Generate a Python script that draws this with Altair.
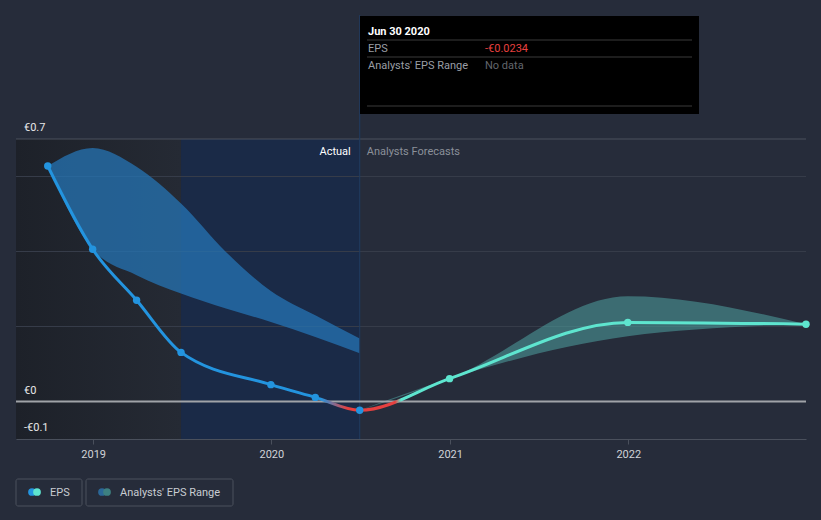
import altair as alt
import pandas as pd

# ---------------- data ----------------
eps_dates = ["2018-09-30", "2018-12-31", "2019-03-31", "2019-06-30", "2019-12-31",
             "2020-03-31", "2020-06-30", "2020-12-31", "2021-12-31", "2022-12-31"]
eps_values = [0.628, 0.406, 0.270, 0.131, 0.045, 0.011, -0.0234, 0.061, 0.211, 0.206]
eps_kind = ["actual"] * 7 + ["forecast"] * 3

past_dates = ["2018-09-30", "2018-12-31", "2019-03-31", "2019-06-30", "2019-09-30",
              "2019-12-31", "2020-03-31", "2020-06-30"]
past_low = [0.628, 0.406, 0.337, 0.288, 0.248, 0.212, 0.172, 0.129]
past_high = [0.628, 0.676, 0.626, 0.528, 0.399, 0.295, 0.230, 0.168]

fc_dates = ["2020-06-30", "2020-12-31", "2021-12-31", "2022-12-31"]
fc_low = [-0.0234, 0.061, 0.174, 0.206]
fc_high = [-0.0234, 0.061, 0.281, 0.206]

grid_values = [0.2, 0.4, 0.6]
ytick_values = [0.7, 0.0, -0.1]
ytick_labels = ["€0.7", "€0", "-€0.1"]
year_ticks = [2019, 2020, 2021, 2022]

BG = "#262c3a"
BLUE = "#2394df"
TEAL = "#5ee5cf"
RED = "#e6403f"
FONT = "Roboto"

eps_df = pd.DataFrame({"date": eps_dates, "eps": eps_values, "kind": eps_kind})
past_df = pd.DataFrame({"date": past_dates, "low": past_low, "high": past_high})
fc_df = pd.DataFrame({"date": fc_dates, "low": fc_low, "high": fc_high})
one = pd.DataFrame({"a": [0]})

def dt(y, m, d):
    return alt.DateTime(year=y, month=m, date=d, utc=True)

xscale = alt.Scale(type="utc", domain=[dt(2018, 7, 27), dt(2022, 12, 31)])
yscale = alt.Scale(domain=[-0.1, 0.7], nice=False, zero=False)

regions = pd.DataFrame({
    "start": ["2018-07-27", "2019-06-30"],
    "end": ["2019-06-30", "2020-06-30"],
    "name": ["dark", "navy"],
})

# background regions
dark_rect = alt.Chart(regions).transform_filter(alt.datum.name == "dark").mark_rect(
    fill=alt.Gradient(gradient="linear", x1=0, x2=1, y1=0, y2=0,
                      stops=[alt.GradientStop(color="#1d2129", offset=0),
                             alt.GradientStop(color="#252a34", offset=1)])
).encode(
    x=alt.X("start:T", scale=xscale,
            axis=alt.Axis(values=[dt(y, 1, 1) for y in year_ticks], format="%Y",
                          domainColor="#4a505c", tickColor="#4a505c", tickSize=5,
                          labelColor="#d0d3d8", labelFontSize=11, labelFont=FONT,
                          labelPadding=4, grid=False, title=None)),
    x2="end:T",
    y=alt.Y(datum=0.7, scale=yscale, axis=None),
    y2=alt.datum(-0.1),
)
navy_rect = alt.Chart(regions).transform_filter(alt.datum.name == "navy").mark_rect(
    fill="#1a2a47"
).encode(x="start:T", x2="end:T", y=alt.Y(datum=0.7), y2=alt.datum(-0.1))

grid_df = pd.DataFrame({"v": grid_values})
grid = alt.Chart(grid_df).mark_rule(color="#363c49", strokeWidth=1).encode(y="v:Q")
top_line = alt.Chart(one).mark_rule(color="#4b515d", strokeWidth=1).encode(y=alt.datum(0.7))
zero_line = alt.Chart(one).mark_rule(color="#a0a3a8", strokeWidth=2).encode(y=alt.datum(0))

past_band = alt.Chart(past_df).mark_area(interpolate="monotone", color="#2674b4", opacity=0.75).encode(
    x="date:T", y="low:Q", y2="high:Q")
fc_band = alt.Chart(fc_df).mark_area(interpolate="monotone", color="#4fa3a0", opacity=0.55).encode(
    x="date:T", y="low:Q", y2="high:Q")

vline = alt.Chart(one).mark_rule(color="#1f3c62", strokeWidth=1).encode(
    x=alt.datum(dt(2020, 6, 30)), y=alt.value(-124), y2=alt.value(300))

line = alt.Chart(eps_df).mark_line(
    interpolate="monotone", strokeWidth=3,
    stroke=alt.Gradient(gradient="linear", x1=0, x2=1, y1=0, y2=0, stops=[
        alt.GradientStop(color=BLUE, offset=0),
        alt.GradientStop(color=BLUE, offset=0.36),
        alt.GradientStop(color=RED, offset=0.395),
        alt.GradientStop(color=RED, offset=0.458),
        alt.GradientStop(color=TEAL, offset=0.466),
        alt.GradientStop(color=TEAL, offset=1),
    ])
).encode(x="date:T", y="eps:Q")

points = alt.Chart(eps_df).transform_filter(alt.datum.date != "2020-06-30").mark_circle(
    size=55, opacity=1).encode(
    x="date:T", y="eps:Q",
    color=alt.Color("kind:N", scale=alt.Scale(domain=["actual", "forecast"], range=[BLUE, TEAL]), legend=None))
hl_point = alt.Chart(eps_df).transform_filter(alt.datum.date == "2020-06-30").mark_point(
    size=70, filled=True, fill=BLUE, stroke="white", strokeWidth=1.3, opacity=1).encode(
    x="date:T", y="eps:Q")

ylab_df = pd.DataFrame({"v": ytick_values, "lab": ytick_labels})
ylabels = alt.Chart(ylab_df).mark_text(align="left", baseline="alphabetic", dy=-8,
                                       color="#e8e8e8", fontSize=11, font=FONT).encode(
    x=alt.value(8), y="v:Q", text="lab:N")

actual_txt = alt.Chart(one).mark_text(align="right", baseline="alphabetic", dx=-9, color="#ffffff",
                                      fontSize=11, font=FONT, text="Actual").encode(
    x=alt.datum(dt(2020, 6, 30)), y=alt.value(16))
fc_txt = alt.Chart(one).mark_text(align="left", baseline="alphabetic", dx=7, color="#8b9099",
                                  fontSize=11, font=FONT, text="Analysts Forecasts").encode(
    x=alt.datum(dt(2020, 6, 30)), y=alt.value(16))

# tooltip box
tip_box = alt.Chart(one).mark_rect(fill="#000000").encode(
    x=alt.value(344), x2=alt.value(683), y=alt.value(-123), y2=alt.value(-25))
tip_lines_df = pd.DataFrame({"yy": [-99, -82, -33]})
tip_lines = alt.Chart(tip_lines_df).mark_rule(color="#3a3a3a", strokeWidth=1).encode(
    x=alt.value(351), x2=alt.value(676), y=alt.Y("yy:Q", scale=None))

def txt(s, x, y, color, weight="normal", size=11, align="left"):
    return alt.Chart(one).mark_text(align=align, baseline="alphabetic", color=color, fontSize=size,
                                    font=FONT, fontWeight=weight, text=s).encode(
        x=alt.value(x), y=alt.value(y))

tip_texts = [
    txt("Jun 30 2020", 352, -104, "#ffffff", weight="bold"),
    txt("EPS", 352, -87, "#9a9ea5"),
    txt("-€0.0234", 469, -87, "#e8403f"),
    txt("Analysts' EPS Range", 352, -70, "#9a9ea5"),
    txt("No data", 469, -70, "#62666d"),
]

# legend
def box(x0, x1):
    return alt.Chart(one).mark_rect(fill=BG, stroke="#4a505c", strokeWidth=1, cornerRadius=2).encode(
        x=alt.value(x0), x2=alt.value(x1), y=alt.value(340), y2=alt.value(367))

def dot(x, color):
    return alt.Chart(one).mark_circle(size=60, color=color, opacity=1).encode(
        x=alt.value(x), y=alt.value(353))

legend = [
    box(0, 66), dot(16, BLUE), dot(21, TEAL), txt("EPS", 34, 357, "#c8ccd2"),
    box(70, 217), dot(86, "#2b6797"), dot(91, "#3d8080"), txt("Analysts' EPS Range", 104, 357, "#c8ccd2"),
]

chart = alt.layer(
    dark_rect, navy_rect, grid, top_line, past_band, fc_band, vline, zero_line,
    line, points, hl_point, ylabels, actual_txt, fc_txt,
    tip_box, tip_lines, *tip_texts, *legend
).properties(
    width=790, height=300, autosize="none",
    padding={"left": 16, "top": 139, "right": 15, "bottom": 81},
    background=BG,
).configure_view(stroke=None)

chart.save("out.html", embed_options={"renderer": "svg", "actions": False})
